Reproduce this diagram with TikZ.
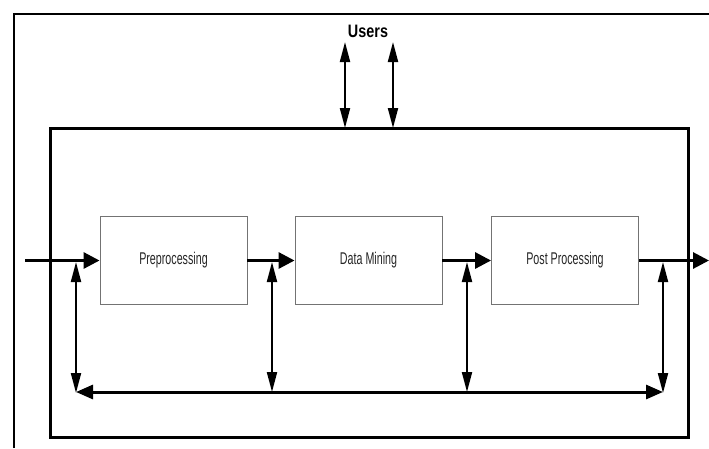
\documentclass[tikz,border=0pt]{standalone}
\usepackage{fontspec}
\setmainfont{Liberation Sans}
\newfontfamily\narrowfont[FakeStretch=0.63]{Liberation Sans}
\newfontfamily\usersfont[FakeStretch=0.8]{Liberation Sans}
\usetikzlibrary{arrows.meta}
\begin{document}
\begin{tikzpicture}[x=1pt,y=-1pt,
  procbox/.style={draw=black!55, line width=0.9pt, minimum width=147pt, minimum height=88pt, inner sep=0pt,
    font=\narrowfont\fontsize{17}{20}\selectfont, text=black!85},
  flow/.style={line width=3pt, -{Triangle[length=16pt,width=16pt]}},
  bidir/.style={line width=2pt, {Triangle[length=20pt,width=10pt]}-{Triangle[length=20pt,width=10pt]}},
  bus/.style={line width=3pt, {Triangle[length=17pt,width=14pt]}-{Triangle[length=17pt,width=14pt]}},
]
\useasboundingbox (0,0) rectangle (709,448);
% outer frame (top and left visible)
\coordinate (fbl) at (14,448);
\coordinate (ftl) at (14,14);
\coordinate (ftr) at (709,14);
\draw[line width=2pt] (fbl) -- (ftl) -- (ftr);
% main system box
\node[draw, line width=3pt, minimum width=638pt, minimum height=309pt, inner sep=0pt] (sys) at (369,282.5) {};
% process boxes
\node[procbox] (pre) at (173.5,260.5) {Preprocessing};
\node[procbox] (dm) at (368.5,260.5) {Data Mining};
\node[procbox] (post) at (565,260.5) {Post Processing};
% users
\node[font=\usersfont\bfseries\fontsize{18}{21}\selectfont, inner sep=0pt] (users) at (368,31) {Users};
\coordinate (u1t) at (345,42);
\coordinate (u1b) at (345,128);
\coordinate (u2t) at (393,42);
\coordinate (u2b) at (393,128);
\draw[bidir] (u1t) -- (u1b);
\draw[bidir] (u2t) -- (u2b);
% main flow
\coordinate (in) at (25,260.5);
\coordinate (out) at (709,260.5);
\draw[flow] (in) -- (pre.west);
\draw[flow] (pre.east) -- (dm.west);
\draw[flow] (dm.east) -- (post.west);
\draw[flow] (post.east) -- (out);
% vertical links
\coordinate (t1) at (76,262);   \coordinate (b1) at (76,393);
\coordinate (t2) at (272,262);  \coordinate (b2) at (272,392);
\coordinate (t3) at (467,262);  \coordinate (b3) at (467,392);
\coordinate (t4) at (663,262);  \coordinate (b4) at (663,393);
\draw[bidir] (t1) -- (b1);
\draw[bidir] (t2) -- (b2);
\draw[bidir] (t3) -- (b3);
\draw[bidir] (t4) -- (b4);
% bottom bus
\coordinate (busl) at (76,392);
\coordinate (busr) at (663,392);
\draw[bus] (busl) -- (busr);
\end{tikzpicture}
\end{document}
